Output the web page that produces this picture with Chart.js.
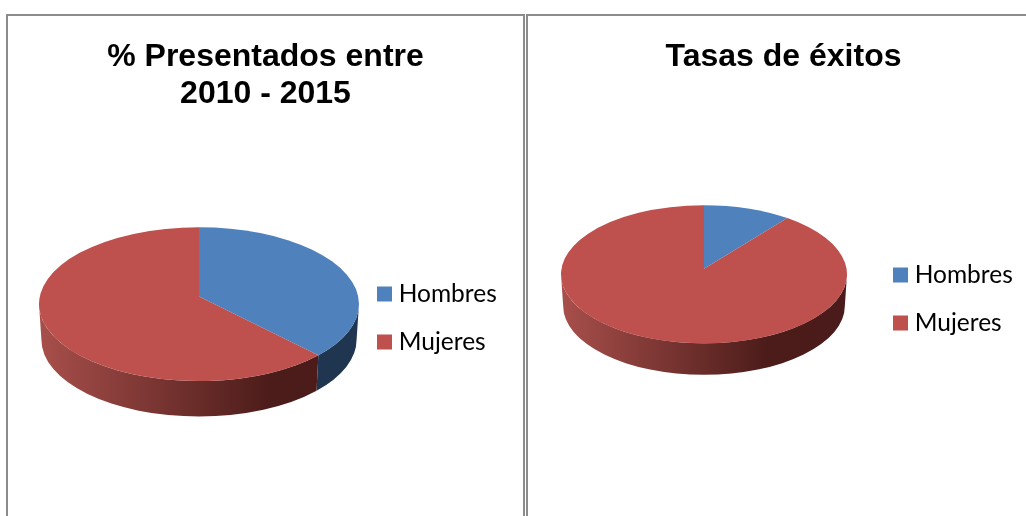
<!DOCTYPE html>
<html lang="es">
<head>
    <meta charset="UTF-8">
    <title>Presentados y tasas de éxitos</title>
    <script src="https://cdn.jsdelivr.net/npm/chart.js"></script>
    <style>
        html, body { margin: 0; background: #fff; overflow: hidden; }
        .panel { position: absolute; top: 14px; height: 600px; border: 2px solid #8c8c8c; }
        .panel canvas { display: block; }
    </style>
</head>
<body>
    <div class="panel" style="left:6px"><canvas id="presentados" width="515" height="600"></canvas></div>
    <div class="panel" style="left:526px"><canvas id="exitos" width="511" height="600"></canvas></div>
    <script>
        const categories = ['Hombres', 'Mujeres'];
        const presentados = [36.6, 63.4];
        const exitos = [9.9, 90.1];
        const tituloPresentados = ['% Presentados entre', '2010 - 2015'];
        const tituloExitos = 'Tasas de éxitos';

        const colors = ['#4F81BD', '#BE504D'];

        // lateral de cada porción
        function sideFill(ctx, i, left, width) {
            if (i === 0) return '#1F3550';
            const g = ctx.createLinearGradient(left, 0, left + width, 0);
            g.addColorStop(0, '#A84F4B');
            g.addColorStop(0.72, '#4C1C1A');
            g.addColorStop(1, '#4A1B1A');
            return g;
        }

        // pie en perspectiva: usa los ángulos que calcula Chart.js
        const pie3d = {
            id: 'pie3d',
            afterLayout(chart, args, opts) {
                chart.titleBlock.left = 0;
                chart.titleBlock.right = chart.width;
                const legend = chart.legend;
                const pad = legend.options.labels.padding;
                legend.left = opts.legendX - pad;
                legend.right = legend.left + legend.width;
                legend.top = opts.legendY - pad;
                legend.bottom = legend.top + legend.height;
            },
            beforeDatasetDraw(chart, args, opts) {
                const ctx = chart.ctx;
                const arcs = args.meta.data;
                ctx.save();
                arcs.forEach((arc, i) => {
                    const a0 = Math.max(arc.startAngle, 0);
                    const a1 = Math.min(arc.endAngle, Math.PI);
                    if (a1 <= a0) return;
                    const r = arc.outerRadius;
                    const ry = r * opts.squash;
                    ctx.beginPath();
                    ctx.ellipse(arc.x, arc.y, r, ry, 0, a0, a1);
                    ctx.ellipse(arc.x, arc.y + opts.depth, r * 0.985, ry, 0, a1, a0, true);
                    ctx.closePath();
                    ctx.fillStyle = sideFill(ctx, i, arc.x - r, r * 2);
                    ctx.fill();
                });
                arcs.forEach((arc, i) => {
                    const r = arc.outerRadius;
                    ctx.beginPath();
                    ctx.moveTo(arc.x, arc.y - opts.apexLift);
                    ctx.ellipse(arc.x, arc.y, r, r * opts.squash, 0, arc.startAngle, arc.endAngle);
                    ctx.closePath();
                    ctx.fillStyle = colors[i];
                    ctx.fill();
                });
                ctx.restore();
                return false;
            }
        };

        function makePie(id, title, values, padding, shape) {
            new Chart(document.getElementById(id), {
                type: 'pie',
                data: {
                    labels: categories,
                    datasets: [{ data: values, backgroundColor: colors, borderWidth: 0 }]
                },
                plugins: [pie3d],
                options: {
                    responsive: false,
                    animation: false,
                    layout: { padding: padding },
                    plugins: {
                        tooltip: { enabled: false },
                        pie3d: shape,
                        title: {
                            display: true,
                            text: title,
                            color: '#000',
                            padding: { top: 22.5, bottom: 0 },
                            font: { family: '"Liberation Sans"', size: 32, weight: 'bold', lineHeight: 1.156 }
                        },
                        legend: {
                            position: 'chartArea',
                            align: 'start',
                            labels: {
                                color: '#000',
                                font: { family: 'Lato', size: 24.5 },
                                boxWidth: 4,
                                boxHeight: 4,
                                padding: 23.5,
                                generateLabels(chart) {
                                    return categories.map((c, i) => ({
                                        text: c,
                                        fillStyle: colors[i],
                                        strokeStyle: colors[i],
                                        lineWidth: 11,
                                        index: i
                                    }));
                                }
                            }
                        }
                    }
                }
            });
        }

        makePie('presentados', tituloPresentados, presentados,
            { left: 31, right: 164, top: 0, bottom: 120.25 },
            { squash: 0.481, depth: 35.5, apexLift: 7.5, legendX: 374.5, legendY: 265.75 });
        makePie('exitos', tituloExitos, exitos,
            { left: 33, right: 192, top: 0, bottom: 143 },
            { squash: 0.483, depth: 31.5, apexLift: 5.5, legendX: 370.5, legendY: 246.75 });
    </script>
</body>
</html>
